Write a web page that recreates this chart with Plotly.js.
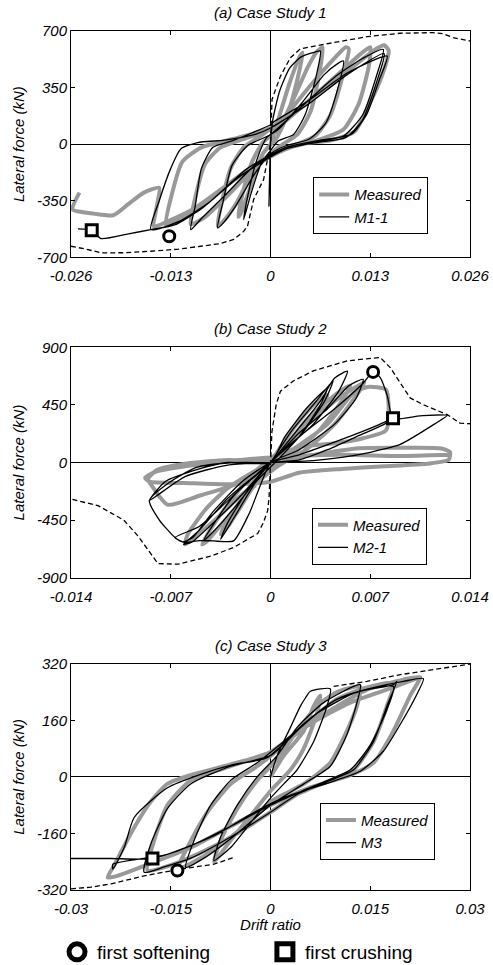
<!DOCTYPE html>
<html><head><meta charset="utf-8">
<script src="https://cdn.plot.ly/plotly-3.0.1.min.js"></script>
<style>html,body{margin:0;padding:0;background:#fff}#chart{width:493px;height:965px}</style>
</head><body><div id="chart"></div>
<script>
// ---------- Panel (a) Case Study 1 ----------
const aTickX = [-0.026, -0.013, 0, 0.013, 0.026];
const aTickXText = ['-0.026', '-0.013', '0', '0.013', '0.026'];
const aTickY = [-700, -350, 0, 350, 700];
const aTickYText = ['-700', '-350', '0', '350', '700'];
const aMeasured = [[0,0],[0.001,150],[0.0025,380],[0.0038,540],[0.0042,565],[0.0036,420],[0.0022,180],[0.0008,40],[-0.001,-60],[-0.0025,-250],[-0.0038,-420],[-0.0042,-450],[-0.0036,-300],[-0.0024,-110],[-0.001,10],[0.001,90],
[0.003,280],[0.0048,470],[0.006,570],[0.0068,600],[0.0064,450],[0.0052,200],[0.0035,60],[0.001,-20],[-0.002,-150],[-0.0045,-370],[-0.0062,-480],[-0.0069,-505],[-0.0063,-350],[-0.0052,-150],[-0.0035,-20],[-0.001,60],
[0.002,180],[0.0055,380],[0.0085,540],[0.0098,600],[0.0102,590],[0.0094,420],[0.0078,180],[0.0058,50],[0.003,-10],[-0.001,-100],[-0.005,-290],[-0.0085,-450],[-0.0104,-495],[-0.0098,-330],[-0.0085,-120],[-0.0065,-20],[-0.003,40],[0.001,110],
[0.005,270],[0.009,440],[0.0118,560],[0.013,600],[0.0128,480],[0.0115,250],[0.0095,90],[0.0065,30],[0.002,-30],[-0.003,-160],[-0.008,-340],[-0.0115,-460],[-0.0136,-500],[-0.0128,-300],[-0.0115,-110],[-0.009,-20],[-0.005,30],[0,100],
[0.005,260],[0.0105,470],[0.0138,590],[0.0148,612],[0.0154,580],[0.0145,420],[0.0128,240],[0.011,80],[0.008,25],[0.004,0],[0,-70],[-0.005,-230],[-0.01,-400],[-0.0135,-480],[-0.0152,-510],[-0.0148,-380],[-0.0145,-270],[-0.0165,-300],[-0.0185,-370],[-0.0205,-440],[-0.023,-430],[-0.0258,-405],[-0.0249,-300]];
const aModel = [[0,0],[-0.0001,-220],[-0.0002,-384],[-0.0001,-150],[0,0],
[0.0003,150],[0.0012,330],[0.0025,470],[0.004,540],[0.0058,570],[0.0065,576],[0.006,430],[0.0045,180],[0.003,60],[0.001,20],[0,-40],[-0.0012,-120],[-0.0025,-300],[-0.0035,-467],[-0.003,-330],[-0.0018,-100],[-0.0005,40],[0.001,90],
[0.004,250],[0.007,430],[0.0088,500],[0.0095,514],[0.0088,350],[0.0072,130],[0.005,30],[0.002,-10],[0,-60],[-0.002,-180],[-0.0045,-380],[-0.0062,-490],[-0.0069,-518],[-0.0062,-360],[-0.005,-130],[-0.003,-10],[0,60],
[0.004,230],[0.0085,420],[0.012,530],[0.0147,586],[0.0138,420],[0.012,180],[0.0095,50],[0.006,15],[0.002,-30],[-0.002,-130],[-0.006,-320],[-0.009,-460],[-0.0104,-529],[-0.0098,-380],[-0.009,-150],[-0.0075,-20],[-0.005,20],[0,120],[0.0005,140],
[0.005,270],[0.01,440],[0.0152,545],[0.0142,400],[0.0125,180],[0.0105,60],[0.0065,25],[0.002,-20],[-0.003,-150],[-0.008,-360],[-0.012,-480],[-0.0156,-529],[-0.0145,-350],[-0.013,-150],[-0.0117,-30],[-0.0095,10],[-0.006,25],[-0.002,60],[0,100],
[0.005,250],[0.01,430],[0.0148,560],[0.0138,380],[0.012,150],[0.0098,40],[0.006,10],[0.002,-30],[-0.004,-200],[-0.009,-400],[-0.0125,-500],[-0.0156,-529],[-0.0185,-555],[-0.0221,-584],[-0.0233,-533],[-0.0251,-525]];
const aEnvelope = [[-0.026,-632],[-0.024,-650],[-0.0221,-673],[-0.019,-672],[-0.0156,-663],[-0.012,-650],[-0.0091,-632],[-0.0065,-615],[-0.0048,-590],[-0.0035,-540],[-0.003,-508],[-0.0022,-343],[-0.0009,-219],[-0.0004,-95],[0,0],[0.0002,277],[0.0013,421],[0.0026,535],[0.0039,590],[0.0082,628],[0.0126,665],[0.0169,686],[0.0212,690],[0.0225,683],[0.0238,659],[0.0248,650],[0.026,638]];
const aSoftening = [[-0.0132,-570]];
const aCrushing = [[-0.0233,-533]];

// ---------- Panel (b) Case Study 2 ----------
const bTickX = [-0.014, -0.007, 0, 0.007, 0.014];
const bTickXText = ['-0.014', '-0.007', '0', '0.007', '0.014'];
const bTickY = [-900, -450, 0, 450, 900];
const bTickYText = ['-900', '-450', '0', '450', '900'];
const bMeasured = [[0,0],[0.0015,250],[0.003,450],[0.004,530],[0.0035,420],[0.002,220],[0.0005,40],[-0.001,-150],[-0.002,-330],[-0.003,-500],[-0.0035,-560],[-0.003,-450],[-0.0018,-250],[-0.0005,-40],[0.001,120],
[0.0025,330],[0.004,480],[0.0052,580],[0.0056,600],[0.005,480],[0.0035,260],[0.0015,60],[0,-40],[-0.002,-300],[-0.0035,-490],[-0.0045,-620],[-0.0048,-640],[-0.0042,-520],[-0.0028,-300],[-0.0012,-80],[0.001,120],
[0.003,340],[0.005,520],[0.0063,610],[0.0066,624],[0.006,520],[0.0045,300],[0.0025,100],[0.0005,-30],[-0.002,-250],[-0.004,-460],[-0.0055,-600],[-0.006,-640],[-0.0058,-560],[-0.0045,-360],[-0.003,-200],[-0.001,-60],[0.001,60],
[0.004,300],[0.0058,540],[0.0068,590],[0.0081,570],[0.0083,400],[0.0081,250],[0.0065,190],[0.0045,150],[0.002,120],[0,20],[-0.002,-150],[-0.005,-260],[-0.0072,-330],[-0.0084,-170],[-0.0086,-130],[-0.008,-60],[-0.006,-10],[-0.003,20],[0,10],[0.003,60],[0.006,110],[0.009,115],[0.012,110],[0.0126,80],[0.0125,20],[0.011,-10],[0.008,-30],[0.005,-50],[0.002,-80],[0,-150],[-0.003,-170],[-0.006,-160],[-0.0085,-150],[-0.0088,-120],[-0.008,-70],[-0.006,-30],[-0.003,10],[0,40],[0.005,60],[0.009,50],[0.0125,60]];
const bModel = [[0,0],[0.001,200],[0.0025,420],[0.004,584],[0.0035,450],[0.002,200],[0.0005,20],[-0.001,-150],[-0.0025,-420],[-0.0035,-600],[-0.003,-470],[-0.0015,-200],[0,0],
[0.0015,250],[0.003,450],[0.0044,640],[0.0038,480],[0.002,200],[0,0],[-0.002,-280],[-0.0035,-480],[-0.0047,-613],[-0.0041,-500],[-0.0025,-250],[0,0],
[0.002,270],[0.0035,480],[0.0045,660],[0.0054,713],[0.0048,560],[0.003,300],[0,0],[-0.002,-250],[-0.004,-470],[-0.0055,-620],[-0.0061,-640],[-0.005,-530],[-0.003,-280],[0,0],
[0.002,230],[0.004,420],[0.0055,600],[0.0065,650],[0.006,500],[0.0045,300],[0.002,100],[0,0],[-0.003,-300],[-0.005,-500],[-0.0067,-587],[-0.006,-625],[-0.005,-610],[-0.004,-613],[-0.0026,-613],[-0.0015,-400],[0,0],
[0.002,200],[0.0045,420],[0.0065,620],[0.0072,708],[0.0077,663],[0.0082,520],[0.0086,345],[0.0105,365],[0.0124,368],[0.0115,300],[0.0091,141],[0.007,80],[0.005,40],[0.003,15],[0,0],
[-0.0028,-2],[-0.0052,-39],[-0.0071,-156],[-0.0085,-297],[-0.0078,-450],[-0.0067,-587],[-0.0062,-620],[-0.0055,-590],[-0.004,-380],[-0.002,-150],[0,0],
[0.002,60],[0.005,180],[0.0075,290],[0.0086,345],[0.008,300],[0.006,200],[0.004,100],[0.002,20],[0,0],[-0.003,-20],[-0.006,-110],[-0.0085,-297],[-0.0074,-150],[-0.005,-50],[-0.003,0],[0,0]];
const bEnvelope = [[-0.0139,-289],[-0.0121,-337],[-0.0103,-450],[-0.0093,-574],[-0.0079,-790],[-0.0065,-795],[-0.0042,-732],[-0.0026,-665],[-0.0016,-600],[-0.0009,-556],[-0.0005,-470],[-0.0002,-376],[-0.0001,-270],[0,0],[0.0001,242],[0.0004,453],[0.0007,558],[0.0016,637],[0.003,716],[0.0054,795],[0.0077,821],[0.0084,742],[0.0098,505],[0.0107,453],[0.0124,374],[0.0133,308],[0.014,303]];
const bSoftening = [[0.0072,708]];
const bCrushing = [[0.0086,345]];

// ---------- Panel (c) Case Study 3 ----------
const cTickX = [-0.03, -0.015, 0, 0.015, 0.03];
const cTickXText = ['-0.03', '-0.015', '0', '0.015', '0.03'];
const cTickY = [-320, -160, 0, 160, 320];
const cTickYText = ['-320', '-160', '0', '160', '320'];
const cMeasured = [[0,0],[0.002,60],[0.005,130],[0.0065,200],[0.0075,230],[0.007,180],[0.005,80],[0.003,20],[0,-40],[-0.003,-110],[-0.006,-180],[-0.0085,-240],[-0.0075,-180],[-0.005,-90],[-0.002,-10],[0.001,50],
[0.004,130],[0.007,200],[0.01,240],[0.0135,255],[0.013,200],[0.011,110],[0.009,40],[0.005,-20],[0,-70],[-0.004,-140],[-0.008,-200],[-0.012,-245],[-0.014,-262],[-0.0125,-200],[-0.0095,-100],[-0.006,-20],[-0.002,30],[0.002,90],
[0.006,160],[0.01,220],[0.014,250],[0.0185,265],[0.0175,200],[0.0155,100],[0.0125,20],[0.009,-10],[0.004,-50],[0,-100],[-0.005,-160],[-0.01,-210],[-0.015,-250],[-0.0185,-265],[-0.0175,-180],[-0.0155,-80],[-0.012,-10],[-0.006,30],[0,70],
[0.005,140],[0.01,200],[0.015,250],[0.02,275],[0.0225,282],[0.021,230],[0.0185,130],[0.0155,40],[0.012,5],[0.006,-30],[0,-80],[-0.006,-140],[-0.012,-200],[-0.018,-245],[-0.023,-280],[-0.0245,-285],[-0.0235,-250],[-0.021,-160],[-0.018,-70],[-0.0155,-20],[-0.012,5],[-0.006,35],[0,70],[0.006,150],[0.012,210],[0.018,250],[0.0225,282]];
const cModel = [[0,0],[0.001,60],[0.003,140],[0.0045,200],[0.00525,223],[0.006,242],[0.009,249],[0.0085,200],[0.0065,100],[0.004,20],[0.002,-20],[0,-60],[-0.003,-130],[-0.006,-200],[-0.0085,-237],[-0.0075,-170],[-0.005,-80],[-0.002,0],[0.001,60],
[0.004,140],[0.008,210],[0.0135,261],[0.013,210],[0.0115,120],[0.009,30],[0.005,-20],[0,-80],[-0.005,-160],[-0.01,-230],[-0.01275,-256],[-0.0115,-180],[-0.009,-80],[-0.006,-10],[-0.002,40],[0.002,100],
[0.007,180],[0.013,240],[0.0185,261],[0.019,270],[0.0175,200],[0.0155,100],[0.0125,20],[0.009,-10],[0.004,-50],[0,-100],[-0.006,-170],[-0.012,-230],[-0.016,-255],[-0.019,-270],[-0.018,-190],[-0.0155,-90],[-0.012,-20],[-0.006,30],[0,60],
[0.002,92],[0.0045,139],[0.0095,214],[0.015,250],[0.02,270],[0.023,278],[0.022,233],[0.0195,148],[0.017,73],[0.0135,16],[0.0095,-12],[0.002,-59],[-0.003,-106],[-0.008,-162],[-0.0155,-219],[-0.0237,-247],[-0.0237,-261],[-0.022,-200],[-0.0205,-115],[-0.0155,-31],[-0.0105,7],[-0.0055,35],[-0.0005,54],
[0.005,150],[0.01,220],[0.015,250],[0.0185,255],[0.0175,190],[0.015,90],[0.012,20],[0.006,-30],[0,-80],[-0.006,-140],[-0.012,-195],[-0.01775,-231],[-0.024,-231],[-0.03,-231]];
const cEnvelope = [[-0.03,-317],[-0.027,-312],[-0.024,-303],[-0.019,-280],[-0.0135,-261],[-0.0085,-247],[-0.0055,-228],[null,null],[0.0095,256],[0.0145,270],[0.0195,289],[0.0245,303],[0.03,319]];
const cSoftening = [[-0.014,-265]];
const cCrushing = [[-0.01775,-231]];

const panelTitles = ['(a) Case Study 1', '(b) Case Study 2', '(c) Case Study 3'];
const modelNames = ['M1-1', 'M2-1', 'M3'];
const markerNames = ['first softening', 'first crushing'];

// ---------- build ----------
const FONT = 'Liberation Sans, Arial, sans-serif';
const xs = p => p.map(d => d[0]);
const ys = p => p.map(d => d[1]);
const panels = [
  {meas: aMeasured, model: aModel, env: aEnvelope, soft: aSoftening, crush: aCrushing, tx: aTickX, txt: aTickXText, ty: aTickY, tyt: aTickYText},
  {meas: bMeasured, model: bModel, env: bEnvelope, soft: bSoftening, crush: bCrushing, tx: bTickX, txt: bTickXText, ty: bTickY, tyt: bTickYText},
  {meas: cMeasured, model: cModel, env: cEnvelope, soft: cSoftening, crush: cCrushing, tx: cTickX, txt: cTickXText, ty: cTickY, tyt: cTickYText}
];
const domains = [[0.7366, 1], [0.3636, 0.6317], [0, 0.2634]];
const legendPos = [[0.607, 0.8298], [0.604, 0.4452], [0.624, 0.1014]];

const traces = [];
const layout = {
  width: 493, height: 965,
  // bottom margin is topped up by the space Plotly reserves for the key below the plots
  margin: {l: 71, r: 23, t: 31, b: 43},
  paper_bgcolor: '#fff', plot_bgcolor: '#fff',
  font: {family: FONT, size: 15, color: '#000', style: 'italic'},
  showlegend: true,
  annotations: []
};

panels.forEach((p, i) => {
  const sx = i === 0 ? '' : String(i + 1);
  const xa = 'x' + sx, ya = 'y' + sx;
  const lg = 'legend' + sx;
  traces.push({x: xs(p.meas), y: ys(p.meas), xaxis: xa, yaxis: ya, mode: 'lines', name: 'Measured', legend: lg,
    line: {color: '#999999', width: 4, shape: 'spline', smoothing: 0.6}});
  traces.push({x: xs(p.model), y: ys(p.model), xaxis: xa, yaxis: ya, mode: 'lines', name: modelNames[i], legend: lg,
    line: {color: '#000', width: 1.3, shape: 'spline', smoothing: 0.6}});
  traces.push({x: xs(p.env), y: ys(p.env), xaxis: xa, yaxis: ya, mode: 'lines', showlegend: false,
    line: {color: '#000', width: 1.3, dash: '5px,3px'}});
  traces.push({x: xs(p.soft), y: ys(p.soft), xaxis: xa, yaxis: ya, mode: 'markers', showlegend: false,
    marker: {symbol: 'circle', size: 11, color: '#fff', line: {color: '#000', width: 3}}});
  traces.push({x: xs(p.crush), y: ys(p.crush), xaxis: xa, yaxis: ya, mode: 'markers', showlegend: false,
    marker: {symbol: 'square', size: 11, color: '#fff', line: {color: '#000', width: 3}}});

  const axCommon = {showline: true, mirror: 'ticks', linecolor: '#000', linewidth: 1, ticks: 'inside', ticklen: 4,
    tickcolor: '#000', showgrid: false, zeroline: true, zerolinecolor: '#000', zerolinewidth: 1,
    tickfont: {family: FONT, size: 15, style: 'italic', color: '#000'}, fixedrange: true};
  layout['xaxis' + sx] = Object.assign({}, axCommon, {domain: [0, 1], anchor: ya, range: [p.tx[0], p.tx[4]],
    tickmode: 'array', tickvals: p.tx, ticktext: p.txt, ticklabelstandoff: 5});
  layout['yaxis' + sx] = Object.assign({}, axCommon, {domain: domains[i], anchor: xa, range: [p.ty[0], p.ty[4]],
    tickmode: 'array', tickvals: p.ty, ticktext: p.tyt,
    title: {text: 'Lateral force (kN)', standoff: 8, font: {family: FONT, size: 15, style: 'italic', color: '#000'}}});
  layout[lg] = {x: legendPos[i][0], y: legendPos[i][1], xanchor: 'left', yanchor: 'top', bgcolor: '#fff',
    bordercolor: '#000', borderwidth: 1, font: {family: FONT, size: 15, style: 'italic', color: '#000'}, tracegroupgap: 0};
  layout.annotations.push({xref: 'paper', yref: 'paper', x: 0.5, y: domains[i][1], yanchor: 'bottom', yshift: 8,
    showarrow: false, text: panelTitles[i], font: {family: FONT, size: 15, style: 'italic', color: '#000'}});
});
layout.xaxis3.title = {text: 'Drift ratio', font: {family: FONT, size: 15, style: 'italic', color: '#000'}, standoff: 4};

// bottom key: one single-entry legend per marker symbol
const keyLegends = ['legend4', 'legend5'];
const keySymbols = ['circle', 'square'];
const keyX = [-0.035, 0.486];
markerNames.forEach((nm, k) => {
  traces.push({x: [null], y: [null], xaxis: 'x3', yaxis: 'y3', mode: 'markers', name: nm, legend: keyLegends[k],
    marker: {symbol: keySymbols[k], size: 16, color: '#fff', line: {color: '#000', width: 5}}});
  layout[keyLegends[k]] = {xref: 'paper', yref: 'container', x: keyX[k], y: 0.0135,
    xanchor: 'left', yanchor: 'middle', bgcolor: 'rgba(0,0,0,0)', borderwidth: 0,
    font: {family: FONT, size: 19, style: 'normal', color: '#000'}};
});

Plotly.newPlot('chart', traces, layout, {staticPlot: true, displayModeBar: false});
</script>
</body></html>
